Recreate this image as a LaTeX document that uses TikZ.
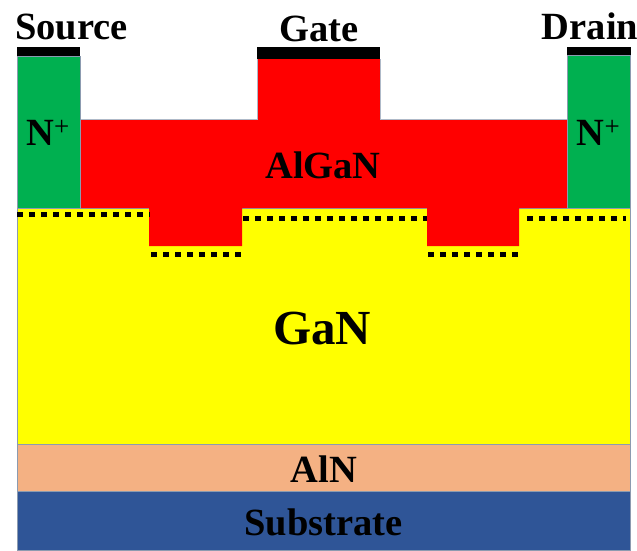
\documentclass[tikz,border=0pt]{standalone}
\usepackage{fontspec}
\setmainfont{Liberation Serif}
\usepackage{xcolor}
\definecolor{edgegray}{HTML}{8C9BB0}
\definecolor{devgreen}{HTML}{00B050}
\definecolor{devred}{HTML}{FF0000}
\definecolor{devyellow}{HTML}{FFFF00}
\definecolor{alnpeach}{HTML}{F4B183}
\definecolor{subblue}{HTML}{2F5597}
\tikzset{
  layer/.style={draw=edgegray,line width=0.8pt},
  contact/.style={fill=black},
  gasdots/.style={line width=5.5pt,dash pattern=on 6pt off 6pt},
  lbl/.style={anchor=base,inner sep=0pt,font=\fontsize{38.5}{38.5}\selectfont\bfseries},
  biglbl/.style={anchor=base,inner sep=0pt,font=\fontsize{49}{49}\selectfont\bfseries},
}
\begin{document}
\begin{tikzpicture}[x=1pt,y=-1pt]
  \useasboundingbox (0,0) rectangle (637,550);
  % 層
  \draw[layer,fill=devyellow] (17,208) rectangle (630,444);
  \draw[layer,fill=alnpeach] (17,444) rectangle (630,491);
  \draw[layer,fill=subblue] (17,491) rectangle (630,550);
  \fill[devred] (80,119) -- (257,119) -- (257,59) -- (380,59) -- (380,119) -- (567,119)
    -- (567,208) -- (519,208) -- (519,246) -- (427,246) -- (427,208) -- (242,208)
    -- (242,246) -- (149,246) -- (149,208) -- (80,208) -- cycle;
  \draw[edgegray!70,line width=0.8pt] (80,119) -- (257,119) -- (257,59);
  \draw[edgegray!70,line width=0.8pt] (380,59) -- (380,119) -- (567,119);
  \draw[layer,fill=devgreen] (17,56) rectangle (80,208);
  \draw[layer,fill=devgreen] (567,55) rectangle (630,208);

  % 電極
  \fill[contact] (16.5,47) rectangle (80,56);
  \fill[contact] (257,47) rectangle (380,59);
  \fill[contact] (567,47) rectangle (630.5,55);

  % 点線
  \draw[gasdots] (17,214.5) -- (150,214.5);
  \draw[gasdots] (243,218.5) -- (427,218.5);
  \draw[gasdots] (151,254.5) -- (242,254.5);
  \draw[gasdots] (428,254.5) -- (519,254.5);
  \draw[gasdots] (527,218.5) -- (626,218.5);

  % ノード
  \node (source) [lbl] at (71.5,39) {Source};
  \node (gate) [lbl] at (319,41) {Gate};
  \node (drain) [lbl] at (590,39.5) {Drain};
  \node (nleft) [lbl] at (48,145) {N\textsuperscript{\mdseries +}};
  \node (nright) [lbl] at (598.5,145) {N\textsuperscript{\mdseries +}};
  \node (algan) [lbl] at (323,178) {AlGaN};
  \node (gan) [biglbl] at (322,344) {GaN};
  \node (aln) [lbl] at (324,482) {AlN};
  \node (substrate) [lbl] at (323.5,535) {Substrate};
\end{tikzpicture}
\end{document}
